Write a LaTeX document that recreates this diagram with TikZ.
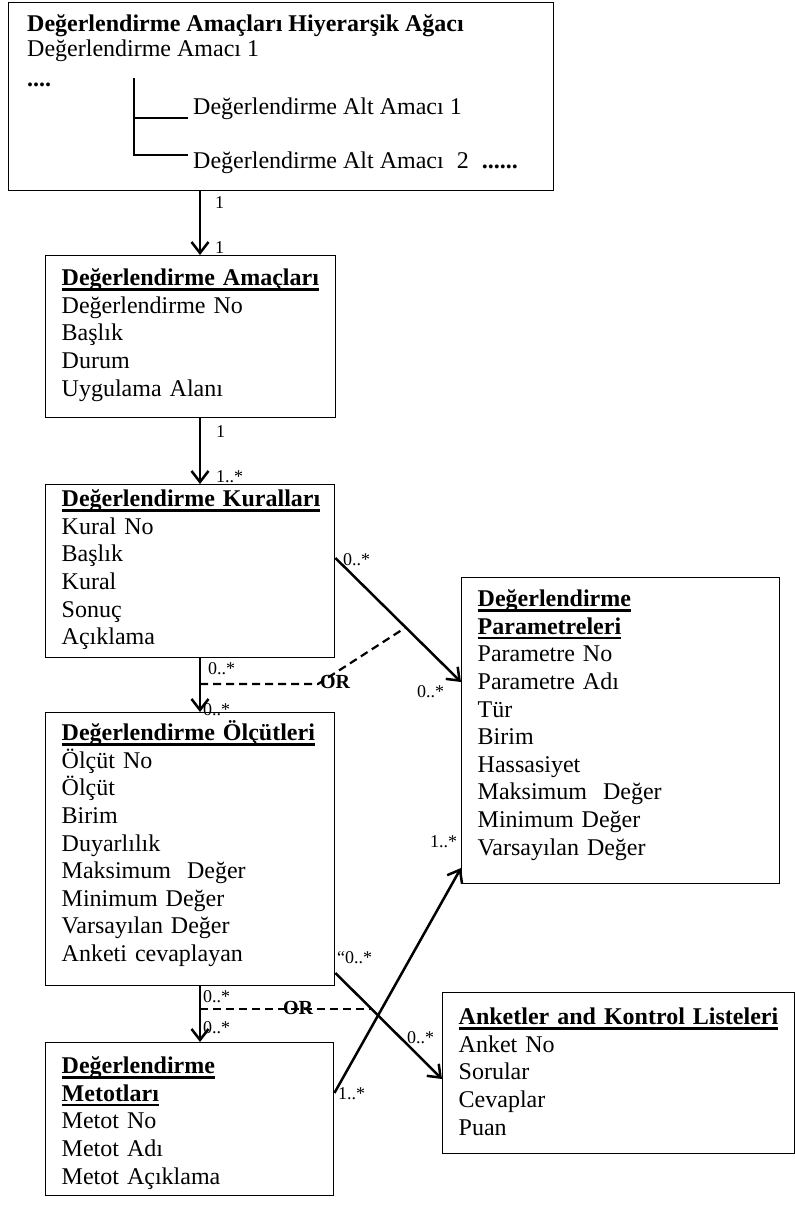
\documentclass[tikz,border=0pt]{standalone}
\usepackage{fontspec}
\setmainfont{Liberation Serif}
\usetikzlibrary{arrows.meta,calc}

\newcommand{\clsname}[1]{\leavevmode\setbox0=\hbox{\bfseries #1}%
  \rlap{\rule[-5pt]{\wd0}{2.3pt}}\box0}

\begin{document}
\begin{tikzpicture}[
  x=1pt, y=-1pt,
  every node/.style={font=\fontsize{24}{27.6}\selectfont},
  box/.style={
    draw, line width=1.4pt, anchor=north west, align=left,
    inner xsep=16pt, inner ysep=0pt
  },
  txt/.style={anchor=base west, inner sep=0pt},
  mult/.style={font=\fontsize{18}{20}\selectfont, anchor=west, inner sep=0pt},
  ortext/.style={font=\fontsize{20}{22}\selectfont\bfseries, inner sep=0pt},
  assoc/.style={line width=2.5pt, -{Straight Barb[length=11pt,width=17pt]}},
  orline/.style={line width=2.2pt, dash pattern=on 8pt off 5pt},
  tree/.style={line width=1.3pt},
]
\useasboundingbox (0,0) rectangle (795,1205);

% ---- Hierarchy box ----
\node[box, minimum width=545pt, minimum height=188pt] (agac) at (8,2) {};
\node[txt] (agbas) at (27,31) {\textbf{Değerlendirme Amaçları Hiyerarşik Ağacı}};
\node[txt] (ag1)   at (27,56) {Değerlendirme Amacı 1};
\node[txt] (agnok) at (27,86) {\textbf{....}};
\node[txt] (alt1)  at (193,114) {Değerlendirme Alt Amacı 1};
\node[txt] (alt2)  at (193,168)
  {Değerlendirme Alt Amacı\hspace{13pt}2\hspace{13pt}\textbf{......}};

\coordinate (kok) at (134,78);
\coordinate (dal1) at (188,118);
\coordinate (dal2) at (188,155);
\draw[tree] (kok) |- (dal2);
\draw[tree] (kok |- dal1) -- (dal1);

% ---- Class boxes ----
\node[box, text width=258pt, text height=30pt, text depth=132pt] (amac) at (45,255)
  {\clsname{Değerlendirme Amaçları}\\Değerlendirme No\\Başlık\\Durum\\Uygulama Alanı};

\node[box, text width=257pt, text height=22pt, text depth=151pt] (kural) at (45,484)
  {\clsname{Değerlendirme Kuralları}\\Kural No\\Başlık\\Kural\\Sonuç\\Açıklama};

\node[box, text width=257pt, text height=28pt, text depth=245pt] (olcut) at (45,712)
  {\clsname{Değerlendirme Ölçütleri}\\Ölçüt No\\Ölçüt\\Birim\\Duyarlılık\\
   Maksimum\ \ Değer\\Minimum Değer\\Varsayılan Değer\\Anketi cevaplayan};

\node[box, text width=256pt, text height=31pt, text depth=122pt] (metot) at (45,1042)
  {\clsname{Değerlendirme}\\\clsname{Metotları}\\Metot No\\Metot Adı\\Metot Açıklama};

\node[box, text width=286pt, text height=29pt, text depth=277pt] (param) at (461,577)
  {\clsname{Değerlendirme}\\\clsname{Parametreleri}\\Parametre No\\Parametre Adı\\Tür\\
   Birim\\Hassasiyet\\Maksimum\ \ Değer\\Minimum Değer\\Varsayılan Değer};

\node[box, text width=320pt, text height=32pt, text depth=129pt] (anket) at (442,992)
  {\clsname{Anketler and Kontrol Listeleri}\\Anket No\\Sorular\\Cevaplar\\Puan};

% ---- Vertical associations ----
\coordinate (kol) at (200,0);
\draw[assoc] (agac.south -| kol)  -- (amac.north -| kol);
\draw[assoc] (amac.south -| kol)  -- (kural.north -| kol);
\draw[assoc] (kural.south -| kol) -- (olcut.north -| kol);
\draw[assoc] (olcut.south -| kol) -- (metot.north -| kol);

% ---- Diagonal associations ----
\coordinate (k1) at (kural.east |- 0,558);
\coordinate (p1) at (param.west |- 0,682);
\draw[assoc] (k1) -- (p1);

\coordinate (a1) at (olcut.east |- 0,973);
\coordinate (a2) at (anket.west |- 0,1079);
\draw[assoc] (a1) -- (a2);

\coordinate (b1) at (metot.east |- 0,1093);
\coordinate (b2) at (param.west |- 0,868);
\draw[assoc] (b1) -- (b2);

% ---- OR constraints ----
\coordinate (or1k) at (318,684);
\coordinate (or1u) at ($(k1)!0.56!(p1)$);
\draw[orline] (kol |- or1k) -- (or1k) -- (or1u);
\node[ortext] (or1) at (335,682) {OR};

\coordinate (or2u) at ($(a1)!0.34!(a2)$);
\draw[orline] (kol |- or2u) -- (or2u);
\node[ortext] (or2) at (298,1008) {OR};

% ---- Multiplicities ----
\node[mult] (m1a) at (215,203)  {1};
\node[mult] (m1b) at (215,248)  {1};
\node[mult] (m2a) at (216,432)  {1};
\node[mult] (m2b) at (216,477)  {1..*};
\node[mult] (m3a) at (208,669)  {0..*};
\node[mult] (m3b) at (203,710)  {0..*};
\node[mult] (m4a) at (203,997)  {0..*};
\node[mult] (m4b) at (203,1028) {0..*};
\node[mult] (mk1) at (343,560)  {0..*};
\node[mult] (mp1) at (417,692)  {0..*};
\node[mult] (ma1) at (337,958)  {“0..*};
\node[mult] (ma2) at (407,1038) {0..*};
\node[mult] (mb1) at (338,1094) {1..*};
\node[mult] (mb2) at (430,842)  {1..*};

\end{tikzpicture}
\end{document}
